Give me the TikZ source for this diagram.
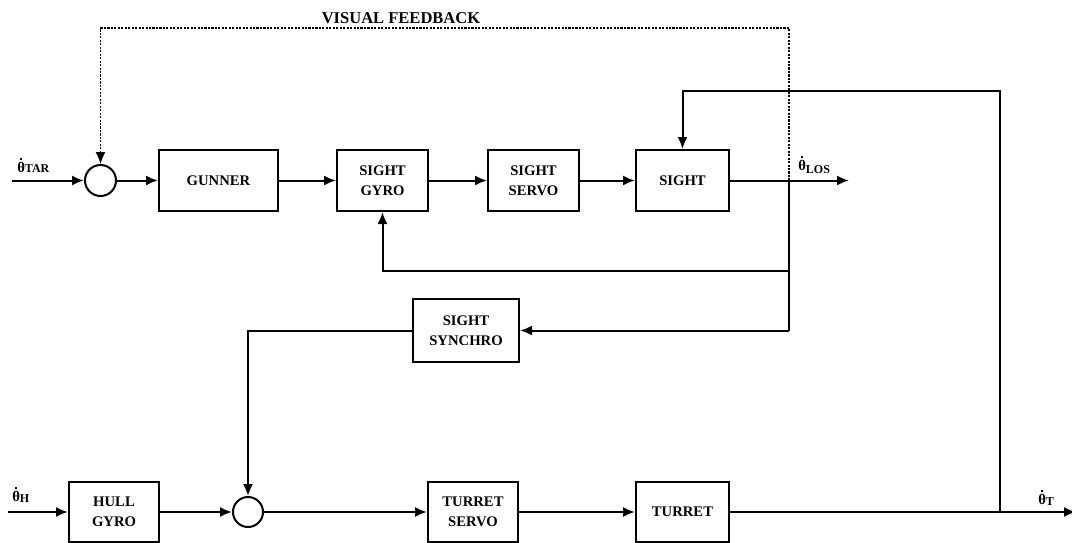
\documentclass[tikz,border=0pt]{standalone}
\usepackage{fontspec}
\setmainfont{Liberation Serif}
\usetikzlibrary{arrows.meta}
\newcommand{\thdot}[2][-0.2ex]{\makebox[0pt][l]{\hspace{0.19em}\raisebox{0.8em}{\rule{0.15em}{0.15em}}}θ\raisebox{#1}{\fontsize{9}{9}\selectfont #2}}
\tikzset{
  blk/.style={draw, line width=1.5pt, inner sep=0pt, align=center,
    font=\bfseries\fontsize{11}{15}\selectfont},
  sumj/.style={draw, circle, line width=1.5pt, inner sep=0pt},
  wire/.style={line width=1.5pt},
  arr/.style={wire, -{Latex[length=9pt,width=7.5pt]}},
  fbdash/.style={line width=1pt, dash pattern=on 1.6pt off 1pt},
  siglab/.style={anchor=base west, inner sep=0pt, font=\bfseries\fontsize{11}{13}\selectfont},
}
\begin{document}
\begin{tikzpicture}[x=0.75pt,y=-0.75pt]
\useasboundingbox (0,0) rectangle (1072,543);
% blocks
\node[sumj, minimum size=23.25pt] (s1) at (100.5,180.5) {};
\node[blk, minimum width=89.25pt, minimum height=45.75pt] (gun) at (218.5,180.5) {GUNNER};
\node[blk, minimum width=68.25pt, minimum height=45.75pt] (sg) at (382.5,180.5) {SIGHT\\GYRO};
\node[blk, minimum width=68.25pt, minimum height=45.75pt] (ss) at (533.5,180.5) {SIGHT\\SERVO};
\node[blk, minimum width=69.75pt, minimum height=45.75pt] (st) at (682.5,180.5) {SIGHT};
\node[blk, minimum width=79.5pt, minimum height=47.25pt] (sy) at (466,330.5) {SIGHT\\SYNCHRO};
\node[blk, minimum width=67.5pt, minimum height=45pt] (hg) at (114,512) {HULL\\GYRO};
\node[sumj, minimum size=22.5pt] (s2) at (248,512) {};
\node[blk, minimum width=67.5pt, minimum height=45pt] (ts) at (473,512) {TURRET\\SERVO};
\node[blk, minimum width=69.75pt, minimum height=45pt] (tu) at (682.5,512) {TURRET};
% labels
\node[font=\bfseries\fontsize{12.4}{14}\selectfont, inner sep=0pt] (vf) at (401,18) {VISUAL FEEDBACK};
\node[siglab] (ltar) at (17,172) {\thdot[-0.05ex]{TAR}};
\node[siglab] (llos) at (798,170) {\thdot[-0.5ex]{LOS}};
\node[siglab] (lh) at (12,501) {\thdot{H}};
\node[siglab] (lt) at (1038,504) {\thdot{T}};
% coordinates
\coordinate (in1) at (12,180.5);
\coordinate (in2) at (8,512);
\coordinate (los) at (849,180.5);
\coordinate (j1) at (789,180.5);
\coordinate (d1) at (789,28);
\coordinate (d2) at (100.5,28);
\coordinate (j2) at (789,271);
\coordinate (g1) at (382.5,271);
\coordinate (j3) at (789,330.5);
\coordinate (y1) at (248,330.5);
\coordinate (fb0) at (1000,512);
\coordinate (fb1) at (1000,90.5);
\coordinate (fb2) at (682.5,90.5);
\coordinate (out) at (1076,512);
% top row
\draw[arr] (in1) -- (s1.west);
\draw[arr] (s1.east) -- (gun.west);
\draw[arr] (gun.east) -- (sg.west);
\draw[arr] (sg.east) -- (ss.west);
\draw[arr] (ss.east) -- (st.west);
\draw[arr] (st.east) -- (los);
% visual feedback
\draw[fbdash, -{Latex[length=9pt,width=7.5pt]}] (j1) -- (d1) -- (d2) -- (s1.north);
% sight feedbacks
\draw[wire] (j1) -- (j3);
\draw[arr] (j2) -- (g1) -- (sg.south);
\draw[arr] (j3) -- (sy.east);
\draw[arr] (sy.west) -- (y1) -- (s2.north);
% bottom row
\draw[arr] (in2) -- (hg.west);
\draw[arr] (hg.east) -- (s2.west);
\draw[arr] (s2.east) -- (ts.west);
\draw[arr] (ts.east) -- (tu.west);
\draw[arr] (tu.east) -- (out);
\draw[arr] (fb0) -- (fb1) -- (fb2) -- (st.north);
\end{tikzpicture}
\end{document}
